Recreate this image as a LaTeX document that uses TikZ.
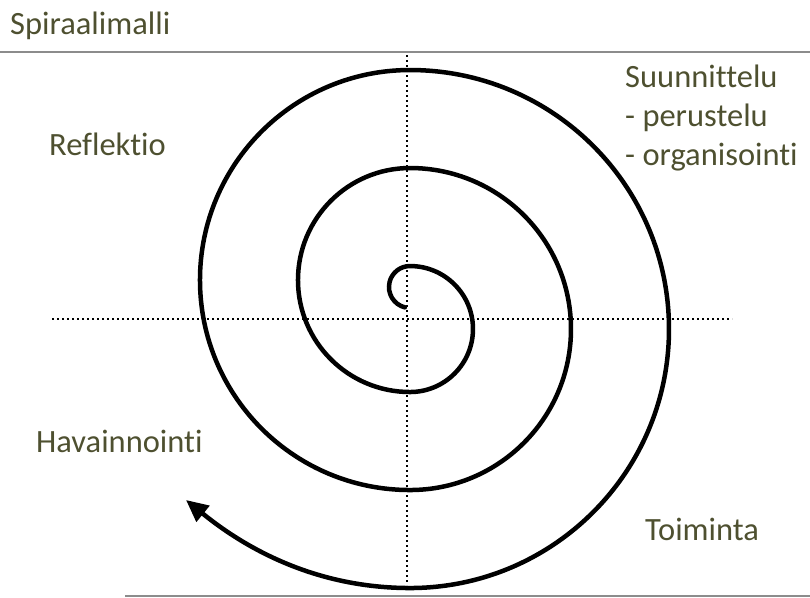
\documentclass[tikz,border=0pt]{standalone}
\usepackage{fontspec}
\setmainfont{Carlito}[Ligatures=NoCommon]
\usetikzlibrary{arrows.meta}
\definecolor{olivetext}{RGB}{78,80,48}
\definecolor{rulegray}{RGB}{140,140,140}
\begin{document}
\begin{tikzpicture}[x=1pt,y=-1pt,
  lbl/.style={font=\fontsize{32.5}{38}\selectfont, text=olivetext, inner sep=0pt, anchor=base west},
  rulestyle/.style={draw=rulegray, line width=2pt},
  dotline/.style={line width=1.6pt, dash pattern=on 1.6pt off 3.4pt},
  spiralstyle/.style={line width=4.5pt, line cap=round}]
\useasboundingbox (0,0) rectangle (810,597);
% rules
\draw[rulestyle] (0,52) -- (810,52);
\draw[rulestyle] (125,596) -- (810,596);
% dotted axes
\coordinate (vt) at (407,55);
\coordinate (vb) at (407,585);
\coordinate (hl) at (52,319);
\coordinate (hr) at (732,319);
\draw[dotline] (vt) -- (vb);
\draw[dotline] (hl) -- (hr);
% spiral
\coordinate (sstart) at (404.9,307.4);
\coordinate (tip) at (186,500);
\draw[spiralstyle, -{Triangle[length=22pt,width=20pt]}] (sstart)
  arc[start angle=104, end angle=270, radius=21]
  arc[start angle=270, end angle=450, radius=63]
  arc[start angle=90, end angle=270, radius=112]
  arc[start angle=270, end angle=450, radius=161]
  arc[start angle=90, end angle=270, radius=210]
  arc[start angle=270, end angle=450, radius=259]
  .. controls (320,588) and (250,552) .. (tip);
% labels
\node[lbl] (title) at (10,34) {Spiraalimalli};
\node[lbl] (s1) at (625,87) {Suunnittelu};
\node[lbl] (s2) at (625,126) {- perustelu};
\node[lbl] (s3) at (625,165) {- organisointi};
\node[lbl] (refl) at (49,155) {Reflektio};
\node[lbl] (hav) at (36,452) {Havainnointi};
\node[lbl] (toim) at (645,540) {Toiminta};
\end{tikzpicture}
\end{document}
